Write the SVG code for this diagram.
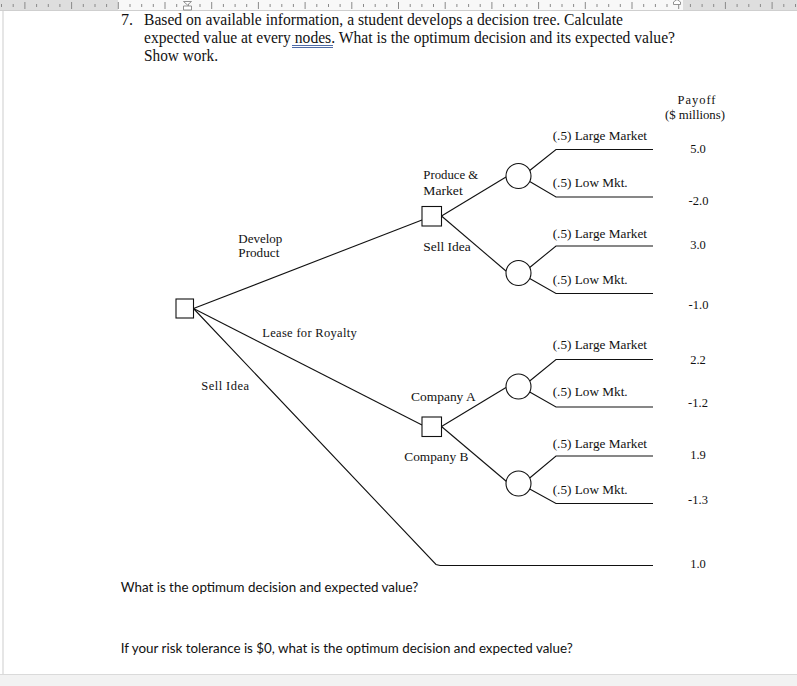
<svg xmlns="http://www.w3.org/2000/svg" width="797" height="686" viewBox="0 0 797 686">
<style>
.ln{fill:none;stroke:#111;stroke-width:1.1}
.nd{fill:#fff;stroke:#111;stroke-width:1.1}
.lb{font-family:"Liberation Serif","Times New Roman",serif;font-size:12.5px;fill:#111}
.pv{font-family:"Liberation Serif","Times New Roman",serif;font-size:12.5px;fill:#111;text-anchor:middle}
.hd{font-family:"Liberation Serif","Times New Roman",serif;font-size:16px;fill:#111}
.q{font-family:Lato,"Open Sans",sans-serif;font-size:12.5px;fill:#111}
.tk{stroke:#8a8a8a;stroke-width:1}
</style>
<rect width="797" height="686" fill="#fff"/>
<g id="ruler">
<rect x="0" y="0" width="797" height="10.5" fill="#dedede"/>
<rect x="118" y="0" width="565" height="10.5" fill="#f8f8f8"/>
<line x1="0" y1="10.5" x2="797" y2="10.5" stroke="#cfcfcf"/>
<path class="tk" d="M1.5 4v3M13.2 4v3M24.9 2v7M36.6 4v3M48.3 4v3M59.9 4v3M71.6 2v7M83.3 4v3M95 4v3M106.6 4v3M118.3 2v7M130 4v3M141.7 4v3M153.3 4v3M165 2v7M176.7 4v3M188.4 4v3M200 4v3M211.7 2v7M223.4 4v3M235.1 4v3M246.7 4v3M258.4 2v7M270.1 4v3M281.8 4v3M293.4 4v3M305.1 2v7M316.8 4v3M328.5 4v3M340.1 4v3M351.8 2v7M363.5 4v3M375.2 4v3M386.8 4v3M398.5 2v7M410.2 4v3M421.9 4v3M433.5 4v3M445.2 2v7M456.9 4v3M468.6 4v3M480.2 4v3M491.9 2v7M503.6 4v3M515.3 4v3M526.9 4v3M538.6 2v7M550.3 4v3M562 4v3M573.6 4v3M585.3 2v7M597 4v3M608.7 4v3M620.3 4v3M632 2v7M643.7 4v3M655.4 4v3M667 4v3M678.7 2v7M690.4 4v3M702.1 4v3M713.7 4v3M725.4 2v7M737.1 4v3M748.8 4v3M760.4 4v3M772.1 2v7M783.8 4v3M795.5 4v3"/>
<path d="M183.5 1.5h8l-4 3.5z M183.5 6h8v4h-8z" fill="#fff" stroke="#888" stroke-width="0.9"/>
<path d="M673.5 4.5v-2.5l3.5-2.5l3.5 2.5v2.5z" fill="#fff" stroke="#888" stroke-width="0.9"/>
</g>
<line x1="3" y1="11" x2="3" y2="674.5" stroke="#cdcdcd"/>
<rect x="0" y="675" width="797" height="11" fill="#f2f2f2"/>
<line x1="0" y1="674.5" x2="797" y2="674.5" stroke="#dadada"/>
<g id="question">
<text class="hd" x="121" y="25">7.</text>
<text class="hd" x="144" y="25" textLength="479" lengthAdjust="spacingAndGlyphs">Based on available information, a student develops a decision tree. Calculate</text>
<text class="hd" x="144" y="43" textLength="531" lengthAdjust="spacingAndGlyphs">expected value at every nodes. What is the optimum decision and its expected value?</text>
<text class="hd" x="144" y="61" textLength="74" lengthAdjust="spacingAndGlyphs">Show work.</text>
<path d="M292 45.5h41M292 47.5h41" stroke="#3b5a9c" stroke-width="0.9"/>
</g>
<g id="connectors">
<polyline class="ln" points="193.5,308.5 422,220"/>
<polyline class="ln" points="193.5,308.5 422,425"/>
<polyline class="ln" points="193.5,308.5 436,564.5 440,565.5 653,565.5"/>
<polyline class="ln" points="441.5,216 506,177"/>
<polyline class="ln" points="441.5,216 506.5,271.5"/>
<polyline class="ln" points="441.5,426.5 506,387.5"/>
<polyline class="ln" points="441.5,426.5 506.5,481.5"/>
<polyline class="ln" points="529.7,170.5 556,149.5 653,149.5"/>
<polyline class="ln" points="529.7,181.5 556,197 653,197"/>
<polyline class="ln" points="529.7,267.5 556,246 653,246"/>
<polyline class="ln" points="529.7,278.5 556,293.5 653,293.5"/>
<polyline class="ln" points="529.7,381 556,359.5 653,359.5"/>
<polyline class="ln" points="529.7,392 556,407 653,407"/>
<polyline class="ln" points="529.7,478 556,456 653,456"/>
<polyline class="ln" points="529.7,489 556,503.5 653,503.5"/>
</g>
<g id="root-decision"><rect class="nd" x="176" y="299" width="17.5" height="19"/></g>
<g id="develop-decision"><rect class="nd" x="422" y="206.5" width="19.5" height="19.5"/></g>
<g id="lease-decision"><rect class="nd" x="422" y="417" width="19.5" height="19.5"/></g>
<g id="chance-produce"><circle class="nd" cx="518.5" cy="176" r="12.5"/></g>
<g id="chance-sell"><circle class="nd" cx="518.5" cy="273" r="12.5"/></g>
<g id="chance-companyA"><circle class="nd" cx="518.5" cy="386.5" r="12.5"/></g>
<g id="chance-companyB"><circle class="nd" cx="518.5" cy="483.5" r="12.5"/></g>
<g id="branch-labels">
<text class="lb" x="423.3" y="179.3" textLength="55" lengthAdjust="spacingAndGlyphs">Produce &amp;</text>
<text class="lb" x="423.3" y="195" textLength="39.4" lengthAdjust="spacingAndGlyphs">Market</text>
<text class="lb" x="238.3" y="243.3" textLength="44" lengthAdjust="spacingAndGlyphs">Develop</text>
<text class="lb" x="238.3" y="257.3" textLength="41" lengthAdjust="spacingAndGlyphs">Product</text>
<text class="lb" x="423.3" y="250.7" textLength="47.4" lengthAdjust="spacingAndGlyphs">Sell Idea</text>
<text class="lb" x="262.3" y="337.3" textLength="94.4">Lease for Royalty</text>
<text class="lb" x="201.3" y="390" textLength="47.7">Sell Idea</text>
<text class="lb" x="411" y="400.7" textLength="64.7" lengthAdjust="spacingAndGlyphs">Company A</text>
<text class="lb" x="404.3" y="460.7" textLength="64" lengthAdjust="spacingAndGlyphs">Company B</text>
<text class="lb" x="552.7" y="139.8" textLength="94.3" lengthAdjust="spacingAndGlyphs">(.5) Large Market</text>
<text class="lb" x="552.7" y="187" textLength="75" lengthAdjust="spacingAndGlyphs">(.5) Low Mkt.</text>
<text class="lb" x="552.7" y="237.5" textLength="94.3" lengthAdjust="spacingAndGlyphs">(.5) Large Market</text>
<text class="lb" x="552.7" y="284" textLength="75" lengthAdjust="spacingAndGlyphs">(.5) Low Mkt.</text>
<text class="lb" x="552.7" y="349.3" textLength="94.3" lengthAdjust="spacingAndGlyphs">(.5) Large Market</text>
<text class="lb" x="552.7" y="396" textLength="75" lengthAdjust="spacingAndGlyphs">(.5) Low Mkt.</text>
<text class="lb" x="552.7" y="447.7" textLength="94.3" lengthAdjust="spacingAndGlyphs">(.5) Large Market</text>
<text class="lb" x="552.7" y="494" textLength="75" lengthAdjust="spacingAndGlyphs">(.5) Low Mkt.</text>
</g>
<g id="payoffs">
<text class="lb" x="677.5" y="103.5" textLength="38">Payoff</text>
<text class="lb" x="665" y="118.5" textLength="60" lengthAdjust="spacingAndGlyphs">($ millions)</text>
<text class="pv" x="698" y="152.5">5.0</text>
<text class="pv" x="698.5" y="204.5">-2.0</text>
<text class="pv" x="698" y="249">3.0</text>
<text class="pv" x="698.5" y="309">-1.0</text>
<text class="pv" x="698" y="364">2.2</text>
<text class="pv" x="698" y="407">-1.2</text>
<text class="pv" x="698" y="458.5">1.9</text>
<text class="pv" x="698" y="504">-1.3</text>
<text class="pv" x="698" y="568">1.0</text>
</g>
<g id="prompts">
<text class="q" x="120.7" y="592.3" textLength="297.6" lengthAdjust="spacingAndGlyphs">What is the optimum decision and expected value?</text>
<text class="q" x="120.7" y="653.3" textLength="452" lengthAdjust="spacingAndGlyphs">If your risk tolerance is $0, what is the optimum decision and expected value?</text>
</g>
</svg>
